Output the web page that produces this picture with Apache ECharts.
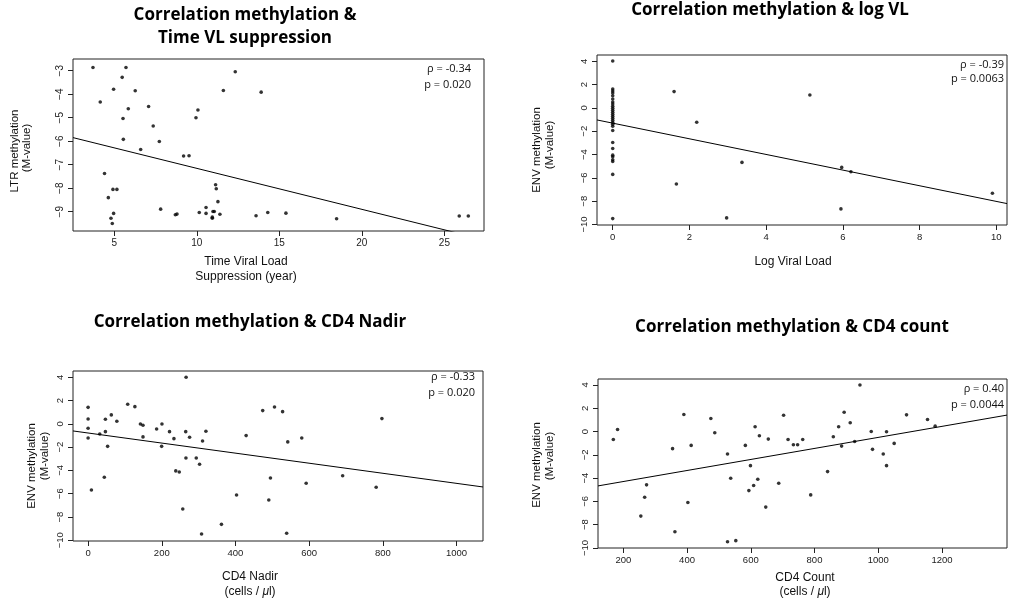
<!DOCTYPE html>
<html>
<head>
<meta charset="utf-8">
<script src="https://cdn.jsdelivr.net/npm/echarts@6/dist/echarts.min.js"></script>
<style>
html,body{margin:0;padding:0;background:#fff}
#chart{width:1011px;height:601px}
</style>
</head>
<body>
<div id="chart"></div>
<script>
// ---- LTR methylation vs time to viral load suppression ----
const timeVLX = [3.71,5.71,5.48,4.96,6.27,4.15,5.85,7.08,5.53,7.36,5.55,7.73,6.6,9.2,9.53,9.95,10.07,11.61,12.33,13.9,4.41,4.92,5.16,4.64,4.96,4.8,4.88,7.81,8.7,8.8,10.15,10.56,10.56,10.94,10.94,10.98,11.06,11.14,11.18,11.28,11.4,13.59,14.3,15.4,18.47,25.9,26.45];
const timeVLY = [-2.86,-2.86,-3.28,-3.79,-3.85,-4.33,-4.62,-4.52,-5.03,-5.35,-5.92,-6.01,-6.35,-6.63,-6.62,-5.0,-4.67,-3.84,-3.04,-3.91,-7.37,-8.05,-8.05,-8.4,-9.07,-9.28,-9.5,-8.89,-9.13,-9.1,-9.03,-8.82,-9.07,-9.23,-9.28,-8.99,-8.99,-7.85,-8.02,-8.57,-9.11,-9.17,-9.03,-9.06,-9.3,-9.18,-9.18];
const timeVLFit = [-5.41, -0.1744];          // intercept, slope
const timeVLXTicks = [5,10,15,20,25];
const timeVLYTicks = [-9,-8,-7,-6,-5,-4,-3];

// ---- ENV methylation vs log viral load ----
const logVLX = [0,0,0,0,0,0,0,0,0,0,0,0,0,0,0,0,0,0,0,0,0,0,0,0,0,0,0,0,1.6,2.19,1.66,2.97,3.37,5.14,5.97,6.21,5.95,9.9];
const logVLY = [4.02,1.62,1.45,1.28,1.05,0.77,0.51,0.34,0.14,-0.03,-0.2,-0.37,-0.55,-0.72,-0.89,-1.06,-1.23,-1.4,-1.57,-1.94,-2.97,-3.48,-4.05,-4.19,-4.45,-4.59,-5.7,-9.49,1.4,-1.23,-6.52,-9.43,-4.67,1.11,-5.1,-5.47,-8.66,-7.32];
const logVLFit = [-1.305, -0.671];
const logVLXTicks = [0,2,4,6,8,10];

// ---- ENV methylation vs CD4 nadir ----
const nadirX = [0,0,0,0,9,31.6,47,47,44,53,63,78,107.5,127,142,149,149,186,200.5,199.6,221,233,238,247.5,257,266,265,265.6,275.5,293.6,302.6,310.7,319.8,308,362,403,429,474,506,528,490.5,495,539,542,580,592,691,782,797.6];
const nadirY = [1.42,0.42,-0.38,-1.21,-5.68,-0.87,0.39,-0.67,-4.59,-1.93,0.77,0.22,1.68,1.48,-0.01,-0.12,-1.12,-0.44,-0.01,-1.93,-0.67,-1.27,-4.04,-4.13,-7.31,4.0,-0.67,-2.93,-1.15,-2.93,-3.47,-1.47,-0.64,-9.46,-8.63,-6.11,-1.01,1.14,1.45,1.05,-6.54,-4.65,-9.4,-1.55,-1.21,-5.1,-4.45,-5.45,0.45];
const nadirFit = [-0.786, -0.004323];
const nadirXTicks = [0,200,400,600,800,1000];

// ---- ENV methylation vs CD4 count ----
const countX = [168.7,182,255,267,273,354.6,362,390,402.6,413,474.7,487,527,527,537,553,583,594,599,609,613.6,622,627,647,655,687.7,703,717,733.7,747,763,788,841,859,875.7,885,893,912,926,942.6,978,982,1015.7,1026,1026,1050,1088.8,1154.6,1178.6];
const countY = [-0.68,0.18,-7.26,-5.64,-4.58,-1.47,-8.6,1.46,-6.09,-1.19,1.12,-0.11,-1.93,-9.46,-4.01,-9.37,-1.19,-5.07,-2.93,-4.64,0.41,-4.1,-0.36,-6.49,-0.65,-4.44,1.4,-0.68,-1.13,-1.13,-0.68,-5.44,-3.44,-0.45,0.41,-1.25,1.66,0.75,-0.85,4.0,0.0,-1.53,-1.93,-0.02,-2.93,-1.02,1.43,1.03,0.46];
const countFit = [-5.241, 0.004737];
const countXTicks = [200,400,600,800,1000,1200];

const envYTicks = [-10,-8,-6,-4,-2,0,2,4];

const TICK_FONT = '"Liberation Sans", Arial, sans-serif';
const TITLE_FONT = '"Open Sans", "Noto Sans", sans-serif';

const minus = v => String(v).replace('-', '\u2212');

const panels = [
  { box: [73, 59, 411, 172], x: [2.5, 27.4], y: [-9.82, -2.5],
    xs: timeVLX, ys: timeVLY, fit: timeVLFit, xt: timeVLXTicks, yt: timeVLYTicks, fs: 10 },
  { box: [597, 55, 410, 170], x: [-0.41, 10.28], y: [-10.04, 4.54],
    xs: logVLX, ys: logVLY, fit: logVLFit, xt: logVLXTicks, yt: envYTicks, fs: 9.5 },
  { box: [73, 371, 410, 170], x: [-41, 1072], y: [-10.06, 4.54],
    xs: nadirX, ys: nadirY, fit: nadirFit, xt: nadirXTicks, yt: envYTicks, fs: 9.5 },
  { box: [598, 379, 409, 169], x: [120.6, 1404], y: [-10.0, 4.51],
    xs: countX, ys: countY, fit: countFit, xt: countXTicks, yt: envYTicks, fs: 9.5 }
];

const grid = [], xAxis = [], yAxis = [], series = [];
panels.forEach((p, i) => {
  grid.push({ left: p.box[0], top: p.box[1], width: p.box[2], height: p.box[3],
    show: true, borderColor: '#222', borderWidth: 1, backgroundColor: 'transparent' });
  const common = {
    type: 'value', gridIndex: i, splitLine: { show: false },
    axisLine: { show: false, onZero: false },
    axisTick: { show: true, inside: false, length: 5, lineStyle: { color: '#222' } },
  };
  xAxis.push(Object.assign({}, common, {
    position: 'bottom',
    min: p.x[0], max: p.x[1],
    axisTick: Object.assign({}, common.axisTick, { customValues: p.xt }),
    axisLabel: { customValues: p.xt, margin: 7, fontSize: p.fs, fontFamily: TICK_FONT, color: '#222', formatter: minus }
  }));
  yAxis.push(Object.assign({}, common, {
    position: 'left',
    min: p.y[0], max: p.y[1],
    axisTick: Object.assign({}, common.axisTick, { customValues: p.yt }),
    axisLabel: { customValues: p.yt, rotate: 90, margin: 8, fontSize: p.fs, fontFamily: TICK_FONT, color: '#222', formatter: minus }
  }));
  series.push({
    type: 'scatter', xAxisIndex: i, yAxisIndex: i,
    data: p.xs.map((v, k) => [v, p.ys[k]]),
    symbol: 'circle', symbolSize: 3.6, itemStyle: { color: '#000' }, silent: true
  });
  const fx = [p.x[0], p.x[1]];
  series.push({
    type: 'line', xAxisIndex: i, yAxisIndex: i, clip: true, silent: true,
    data: fx.map(v => [v, p.fit[0] + p.fit[1] * v]),
    symbol: 'none', lineStyle: { color: '#000', width: 1 }
  });
});

function txt(x, y, text, opt) {
  opt = opt || {};
  return {
    type: 'text', x: x, y: y, rotation: opt.rot || 0, silent: true,
    style: {
      text: text, fill: opt.color || '#111',
      font: opt.font || ('12px ' + TICK_FONT),
      textAlign: opt.align || 'center', textVerticalAlign: 'middle'
    }
  };
}
const titleFont = 'bold 17px ' + TITLE_FONT;
const statFont = '11px ' + TITLE_FONT;
const yNameFont = '11.5px ' + TICK_FONT;
const R = Math.PI / 2;

const graphic = [
  // titles
  txt(245, 15, 'Correlation methylation &', { font: titleFont, color: '#000' }),
  txt(245, 38, 'Time VL suppression', { font: titleFont, color: '#000' }),
  txt(770, 10, 'Correlation methylation & log VL', { font: titleFont, color: '#000' }),
  txt(250, 322, 'Correlation methylation & CD4 Nadir', { font: titleFont, color: '#000' }),
  txt(792, 327, 'Correlation methylation & CD4 count', { font: titleFont, color: '#000' }),
  // correlation statistics
  txt(471, 69, '\u03c1 = -0.34', { font: statFont, align: 'right' }),
  txt(471, 85, 'p = 0.020', { font: statFont, align: 'right' }),
  txt(1004, 65, '\u03c1 = -0.39', { font: statFont, align: 'right' }),
  txt(1004, 79, 'p = 0.0063', { font: statFont, align: 'right' }),
  txt(475, 377, '\u03c1 = -0.33', { font: statFont, align: 'right' }),
  txt(475, 393, 'p = 0.020', { font: statFont, align: 'right' }),
  txt(1004, 389, '\u03c1 = 0.40', { font: statFont, align: 'right' }),
  txt(1004, 405, 'p = 0.0044', { font: statFont, align: 'right' }),
  // x-axis names
  txt(246, 262, 'Time Viral Load'),
  txt(246, 277, 'Suppression (year)'),
  txt(793, 262, 'Log Viral Load'),
  txt(250, 577, 'CD4 Nadir'),
  txt(805, 578, 'CD4 Count'),
  // y-axis names
  txt(15, 151, 'LTR methylation', { rot: R, font: yNameFont }),
  txt(27, 148, '(M-value)', { rot: R, font: yNameFont }),
  txt(537, 150, 'ENV methylation', { rot: R, font: yNameFont }),
  txt(550, 145, '(M-value)', { rot: R, font: yNameFont }),
  txt(32, 466, 'ENV methylation', { rot: R, font: yNameFont }),
  txt(45, 456, '(M-value)', { rot: R, font: yNameFont }),
  txt(537, 465, 'ENV methylation', { rot: R, font: yNameFont }),
  txt(550, 456, '(M-value)', { rot: R, font: yNameFont }),
  // units with italic micro sign
  {
    type: 'text', x: 250, y: 592, silent: true,
    style: {
      text: '(cells / {i|\u03bc}l)', textAlign: 'center', textVerticalAlign: 'middle',
      font: '12px ' + TICK_FONT, fill: '#111',
      rich: { i: { fontStyle: 'italic', fontSize: 12, fontFamily: TICK_FONT, fill: '#111' } }
    }
  },
  {
    type: 'text', x: 805, y: 592, silent: true,
    style: {
      text: '(cells / {i|\u03bc}l)', textAlign: 'center', textVerticalAlign: 'middle',
      font: '12px ' + TICK_FONT, fill: '#111',
      rich: { i: { fontStyle: 'italic', fontSize: 12, fontFamily: TICK_FONT, fill: '#111' } }
    }
  }
];

const chart = echarts.init(document.getElementById('chart'), null, { renderer: 'canvas' });
chart.setOption({
  animation: false,
  backgroundColor: '#fff',
  grid: grid, xAxis: xAxis, yAxis: yAxis, series: series, graphic: graphic
});
</script>
</body>
</html>
